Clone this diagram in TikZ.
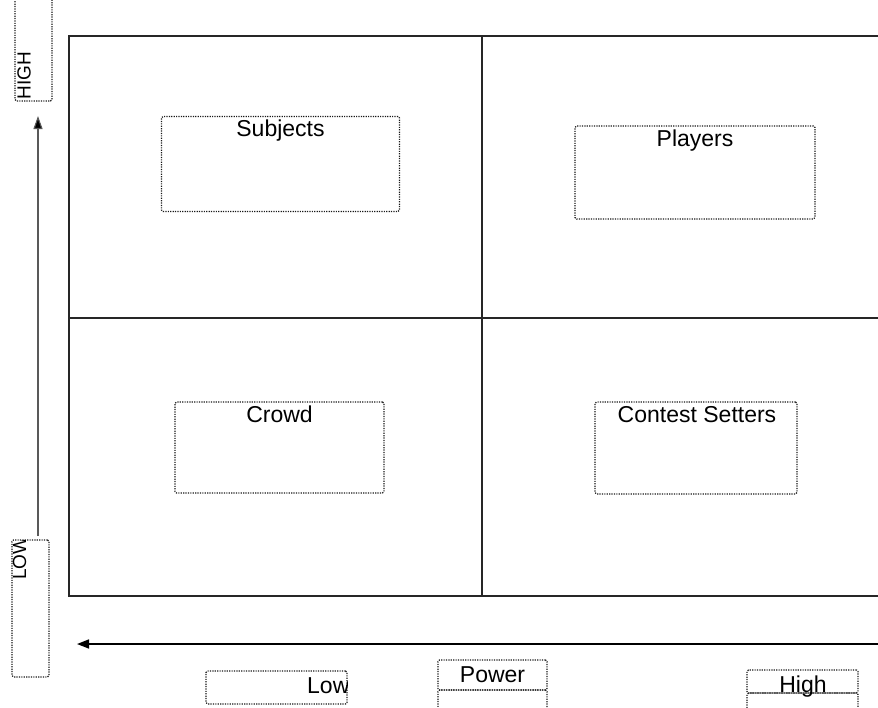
\documentclass[tikz,border=0pt]{standalone}
\usepackage{fontspec}
\setmainfont{Liberation Sans}
\usetikzlibrary{arrows.meta,calc}
\begin{document}
\begin{tikzpicture}[x=1pt,y=-1pt,
  grid/.style={line width=1.7pt, draw=black!85},
  dotbox/.style={draw=black!90, line width=1.2pt, dash pattern=on 1.2pt off 1.2pt, rounded corners=1.5pt, inner sep=0pt, outer sep=0pt},
  lbl/.style={font=\fontsize{23}{27}\selectfont, inner sep=0pt, text=black},
  rotlbl/.style={font=\fontsize{19}{23}\selectfont, inner sep=0pt, text=black, rotate=90},
  vaxis/.style={line width=1.1pt, draw=black!65, -{Triangle[length=13pt,width=9pt,fill=black]}},
  haxis/.style={line width=1.5pt, draw=black, -{Triangle[length=12pt,width=9pt]}}]
\useasboundingbox (0,0) rectangle (878,707);
\clip (0,0) rectangle (878,707);

% grid
\coordinate (tl) at (69,36);
\coordinate (tr) at (895,36);
\coordinate (bl) at (69,596);
\coordinate (br) at (895,596);
\coordinate (mt) at (482,36);
\coordinate (mb) at (482,596);
\coordinate (ml) at (69,318);
\coordinate (mr) at (895,318);
\draw[grid] (tr) -- (tl) -- (bl) -- (br);
\draw[grid] (mt) -- (mb);
\draw[grid] (ml) -- (mr);

% quadrant boxes
\node[dotbox, minimum width=238pt, minimum height=95pt] (subjbox) at (280.5,164) {};
\node[lbl, anchor=base] (subj) at ($(subjbox.north)+(0,20)$) {Subjects};
\node[dotbox, minimum width=240pt, minimum height=93pt] (playbox) at (695,172.5) {};
\node[lbl, anchor=base] (play) at ($(playbox.north)+(0,20)$) {Players};
\node[dotbox, minimum width=209pt, minimum height=91pt] (crowdbox) at (279.5,447.5) {};
\node[lbl, anchor=base] (crowd) at ($(crowdbox.north)+(0,20)$) {Crowd};
\node[dotbox, minimum width=202pt, minimum height=92pt] (contbox) at (696,448) {};
\node[lbl, anchor=base] (cont) at ($(contbox.north)+(1,20)$) {Contest Setters};

% vertical axis labels
\node[dotbox, minimum width=37pt, minimum height=106pt] (highbox) at (33.5,48) {};
\node[rotlbl] (highv) at (24,75.5) {HIGH};
\node[dotbox, minimum width=37pt, minimum height=137pt] (lowbox) at (30.5,608.5) {};
\begin{scope}
  \clip (12,540) rectangle (49,677);
  \node[rotlbl, anchor=west] (lowv) at (19.5,580) {LOW};
\end{scope}

% axes
\coordinate (vs) at (38,536);
\coordinate (ve) at (38,116);
\draw[vaxis] (vs) -- (ve);
\coordinate (hs) at (895,644);
\coordinate (he) at (77,644);
\draw[haxis] (hs) -- (he);

% bottom labels
\node[dotbox, minimum width=141pt, minimum height=33pt] (lowhbox) at (276.5,687.5) {};
\begin{scope}
  \clip (206,671) rectangle (347,704);
  \node[lbl, anchor=base west] (lowh) at (307,693) {Low};
\end{scope}
\node[dotbox, minimum width=109pt, minimum height=30pt] (powbox) at (492.5,675) {};
\node[dotbox, minimum width=109pt, minimum height=30pt, anchor=north] (powbox2) at (powbox.south) {};
\node[lbl, anchor=base] (pow) at (492.5,682) {Power};
\node[dotbox, minimum width=111pt, minimum height=23pt] (highhbox) at (802.5,681.5) {};
\node[dotbox, minimum width=111pt, minimum height=30pt, anchor=north] (highhbox2) at (highhbox.south) {};
\node[lbl, anchor=base] (highh) at (803,692) {High};
\end{tikzpicture}
\end{document}
